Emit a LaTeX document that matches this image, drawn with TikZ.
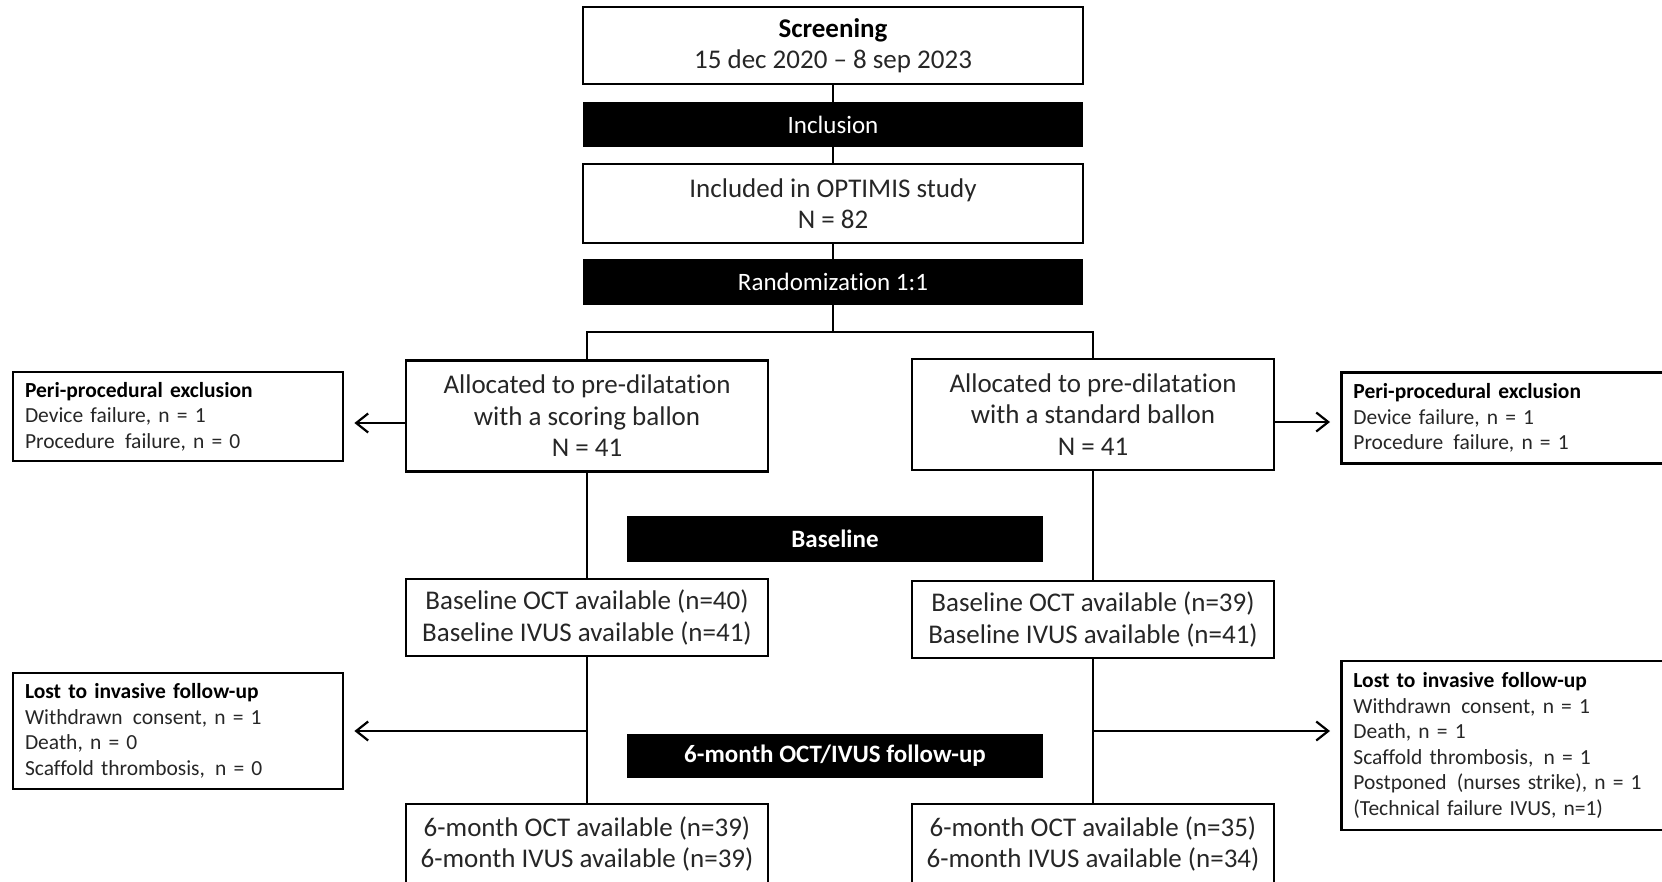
\documentclass[tikz,border=0pt]{standalone}
\usepackage{fontspec}
\setmainfont{Carlito}[RawFeature={-liga,-clig,-dlig,-calt}]
\usetikzlibrary{arrows.meta}

\begin{document}
\begin{tikzpicture}[x=1pt, y=-1pt,
box/.style={draw, line width=2.8pt, text=black!85, align=center, inner sep=0pt,
    minimum width=362pt, font=\fontsize{27}{31.5}\selectfont},
bar/.style={fill=black, text=white, inner sep=0pt, minimum width=500pt,
    minimum height=45pt, font=\fontsize{25}{30}\selectfont},
side/.style={draw, line width=2.8pt, text=black!85, align=left, inner xsep=12pt,
    text width=306pt, font=\fontsize{21.5}{25.5}\selectfont},
line/.style={line width=2.2pt},
arr/.style={line, -{Straight Barb[length=12pt,width=19pt,line width=2.2pt]}, shorten >=10pt}]
\newcommand{\gap}{\hspace{3pt} }
\useasboundingbox (0,0) rectangle (1662,881);
\clip (0,0) rectangle (1662,881);
% central column
\node[box, minimum width=500pt, minimum height=77pt] (screen) at (833,45.5)
  {\textbf{\color{black}Screening}\\15 dec 2020 -- 8 sep 2023};
\node[bar] (incl) at (833,124.5) {Inclusion};
\node[box, minimum width=500pt, minimum height=79pt] (included) at (833,203.5)
  {Included in OPTIMIS study\\N = 82};
\node[bar, minimum height=46pt] (rand) at (833,282) {Randomization 1:1};
% two arms
\node[box, minimum height=111pt] (allocL) at (587,416)
  {Allocated to pre-dilatation\\with a scoring ballon\\N = 41};
\node[box, minimum height=111pt] (allocR) at (1093,414.5)
  {Allocated to pre-dilatation\\with a standard ballon\\N = 41};
\node[bar, minimum width=416pt, minimum height=46pt, font=\fontsize{25}{30}\selectfont\bfseries]
  (basebar) at (835,539) {Baseline};
\node[box, minimum height=77pt] (baseL) at (587,617.5)
  {Baseline OCT available (n=40)\\Baseline IVUS available (n=41)};
\node[box, minimum height=77pt] (baseR) at (1093,619.5)
  {Baseline OCT available (n=39)\\Baseline IVUS available (n=41)};
\node[bar, minimum width=416pt, minimum height=44pt, font=\fontsize{25}{30}\selectfont\bfseries]
  (followbar) at (835,756) {6-month OCT/IVUS follow-up};
\node[box, minimum height=80pt] (sixL) at (587,844)
  {6-month OCT available (n=39)\\6-month IVUS available (n=39)};
\node[box, minimum height=80pt] (sixR) at (1093,844)
  {6-month OCT available (n=35)\\6-month IVUS available (n=34)};
% side boxes
\node[side, minimum height=89pt] (exclL) at (178,416.5)
  {\textbf{\color{black}Peri-procedural exclusion}\\Device failure, n = 1\\Procedure\gap failure, n = 0};
\node[side, text width=350pt, minimum height=91pt, anchor=west] (exclR) at (1340,418)
  {\textbf{\color{black}Peri-procedural exclusion}\\Device failure, n = 1\\Procedure\gap failure, n = 1};
\node[side, minimum height=116pt] (lostL) at (178,731)
  {\textbf{\color{black}Lost to invasive follow-up}\\Withdrawn\gap consent, n = 1\\Death, n = 0\\Scaffold thrombosis,\gap n = 0};
\node[side, text width=350pt, minimum height=169pt, anchor=west] (lostR) at (1340,745.5)
  {\textbf{\color{black}Lost to invasive follow-up}\\Withdrawn\gap consent, n = 1\\Death, n = 1\\Scaffold thrombosis,\gap n = 1\\Postponed\gap (nurses strike), n = 1\\(Technical failure IVUS, n=1)};
% connectors
\draw[line] (screen) -- (incl) -- (included) -- (rand);
\coordinate (split) at ([yshift=-27pt]rand.south);
\draw[line] (rand) -- (split);
\draw[line] (allocL.north) |- (split) -| (allocR.north);
\draw[line] (allocL) -- (baseL);
\draw[line] (allocR) -- (baseR);
\draw[line] (baseL) -- (sixL);
\draw[line] (baseR) -- (sixR);
\draw[arr] ([yshift=-7pt]allocL.west) -- ([yshift=-7pt]allocL.west -| exclL.east);
\draw[arr] ([yshift=-7.5pt]allocR.east) -- ([yshift=-7.5pt]allocR.east -| exclR.west);
\coordinate (outL) at (baseL.south |- lostL.east);
\coordinate (outR) at (baseR.south |- lostL.east);
\draw[arr] (outL) -- (lostL.east);
\draw[arr] (outR) -- (outR -| lostR.west);
\end{tikzpicture}
\end{document}
